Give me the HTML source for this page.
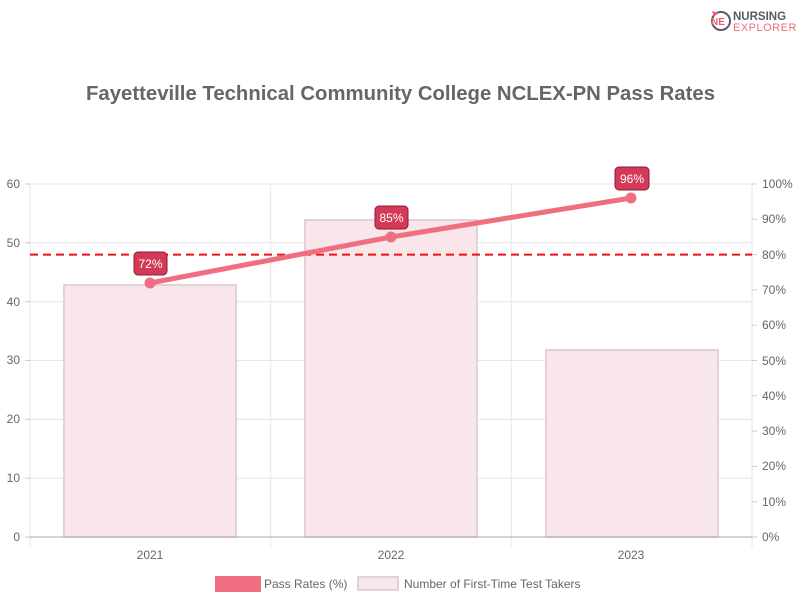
<!DOCTYPE html>
<html><head><style>body{margin:0;background:#fff}svg{display:block;font-family:"Liberation Sans",sans-serif}</style></head><body>
<svg width="800" height="600" viewBox="0 0 800 600">
<rect width="800" height="600" fill="#fff"/>
<g>
<circle cx="721" cy="21" r="9" fill="none" stroke="#5a5a68" stroke-width="2"/>
<path d="M712 11 l6 2 l-4 4z" fill="#e8606f"/>
<text x="718" y="25" font-size="10" font-weight="bold" fill="#e8606f" text-anchor="middle">NE</text>
<text x="733" y="20" font-size="11.5" font-weight="bold" fill="#5a5a68">NURSING</text>
<text x="733" y="31" font-size="11" fill="#e8707c" letter-spacing="0.5">EXPLORER</text>
</g>
<text x="86" y="100" font-size="20.5" font-weight="bold" fill="#666" textLength="629" lengthAdjust="spacingAndGlyphs">Fayetteville Technical Community College NCLEX-PN Pass Rates</text>
<g stroke="#e6e6e6" stroke-width="1">
<line x1="30" x2="752" y1="184" y2="184"/><line x1="30" x2="752" y1="242.8" y2="242.8"/>
<line x1="30" x2="752" y1="301.7" y2="301.7"/><line x1="30" x2="752" y1="360.5" y2="360.5"/>
<line x1="30" x2="752" y1="419.3" y2="419.3"/><line x1="30" x2="752" y1="478.2" y2="478.2"/>
<line x1="270.7" x2="270.7" y1="184" y2="547"/><line x1="511.3" x2="511.3" y1="184" y2="547"/>
<line x1="30" x2="30" y1="184" y2="547"/><line x1="752" x2="752" y1="184" y2="547"/>
</g>
<g stroke="#ccc"><line x1="25" x2="30" y1="537" y2="537"/>
<line x1="25" x2="30" y1="184" y2="184"/><line x1="25" x2="30" y1="242.8" y2="242.8"/><line x1="25" x2="30" y1="301.7" y2="301.7"/><line x1="25" x2="30" y1="360.5" y2="360.5"/><line x1="25" x2="30" y1="419.3" y2="419.3"/><line x1="25" x2="30" y1="478.2" y2="478.2"/>
<line x1="752" x2="757" y1="184" y2="184"/><line x1="752" x2="757" y1="219.3" y2="219.3"/><line x1="752" x2="757" y1="254.6" y2="254.6"/><line x1="752" x2="757" y1="289.9" y2="289.9"/><line x1="752" x2="757" y1="325.2" y2="325.2"/><line x1="752" x2="757" y1="360.5" y2="360.5"/><line x1="752" x2="757" y1="395.8" y2="395.8"/><line x1="752" x2="757" y1="431.1" y2="431.1"/><line x1="752" x2="757" y1="466.4" y2="466.4"/><line x1="752" x2="757" y1="501.7" y2="501.7"/><line x1="752" x2="757" y1="537" y2="537"/>
</g>
<g fill="#f8e6ea" stroke="#e2d2d6" stroke-width="2">
<rect x="64" y="285" width="172" height="252"/>
<rect x="305" y="220" width="172" height="317"/>
<rect x="546" y="350" width="172" height="187"/>
</g>
<line x1="30" x2="752" y1="537" y2="537" stroke="#aaa"/>
<line x1="30" x2="752" y1="254.6" y2="254.6" stroke="#f01010" stroke-width="2" stroke-dasharray="8,5"/>
<polyline points="150,283 391,237 631,198" fill="none" stroke="#ef6f80" stroke-width="5"/>
<g fill="#ef6f80"><circle cx="150" cy="283" r="5.5"/><circle cx="391" cy="237" r="5.5"/><circle cx="631" cy="198" r="5.5"/></g>
<g fill="#d43a57" stroke="#8a1a30" stroke-width="1">
<rect x="134" y="252" width="33" height="23" rx="4"/>
<rect x="375" y="206" width="33" height="23" rx="4"/>
<rect x="615" y="167" width="34" height="23" rx="4"/>
</g>
<g fill="#fff" font-size="12" text-anchor="middle">
<text x="150.5" y="268">72%</text><text x="391.5" y="222">85%</text><text x="632" y="183">96%</text>
</g>
<g fill="#666" font-size="12" text-anchor="end">
<text x="20" y="541">0</text><text x="20" y="482">10</text><text x="20" y="423">20</text><text x="20" y="364">30</text><text x="20" y="306">40</text><text x="20" y="247">50</text><text x="20" y="188">60</text>
</g>
<g fill="#666" font-size="12">
<text x="762" y="188">100%</text><text x="762" y="223">90%</text><text x="762" y="259">80%</text><text x="762" y="294">70%</text><text x="762" y="329">60%</text><text x="762" y="365">50%</text><text x="762" y="400">40%</text><text x="762" y="435">30%</text><text x="762" y="470">20%</text><text x="762" y="506">10%</text><text x="762" y="541">0%</text>
</g>
<g fill="#666" font-size="12" text-anchor="middle">
<text x="150" y="559">2021</text><text x="391" y="559">2022</text><text x="631" y="559">2023</text>
</g>
<rect x="215" y="576" width="46" height="16" fill="#ef6f80"/>
<text x="264" y="588" font-size="12" fill="#666">Pass Rates (%)</text>
<rect x="358" y="577" width="40" height="13" fill="#f8e6ea" stroke="#e2d2d6" stroke-width="2"/>
<text x="404" y="588" font-size="12" fill="#666">Number of First-Time Test Takers</text>
</svg>
</body></html>
